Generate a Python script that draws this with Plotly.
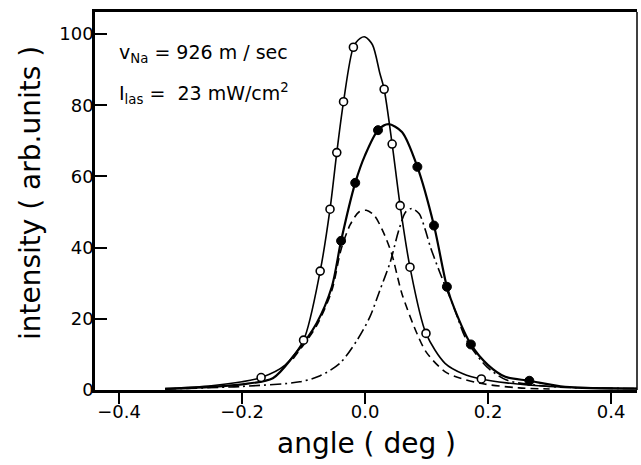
import plotly.graph_objects as go

# measured points (open circles: undeflected beam, filled circles: with laser)
open_x = [-0.169, -0.100, -0.073, -0.057, -0.046, -0.035, -0.019, 0.031, 0.044, 0.057, 0.073, 0.099, 0.189]
open_y = [3.5, 14.0, 33.4, 50.8, 66.7, 81.0, 96.3, 84.5, 69.1, 51.8, 34.5, 15.9, 3.1]

filled_x = [-0.039, -0.016, 0.021, 0.085, 0.112, 0.133, 0.172, 0.267]
filled_y = [41.9, 58.2, 73.0, 62.7, 46.2, 29.0, 12.8, 2.6]

# curves
open_curve_x = [-0.325, -0.25, -0.2, -0.169, -0.13, -0.100, -0.073, -0.057, -0.046, -0.035,
                -0.019, -0.008, 0.0, 0.012, 0.024, 0.031, 0.044, 0.057, 0.073, 0.099,
                0.13, 0.16, 0.189, 0.23, 0.30, 0.442]
open_curve_y = [0.4, 1.2, 2.3, 3.5, 7.0, 14.0, 33.4, 50.8, 66.7, 81.0,
                96.3, 98.8, 99.2, 97.0, 89.0, 84.5, 69.1, 51.8, 34.5, 15.9,
                7.5, 4.5, 3.1, 2.0, 1.0, 0.4]

filled_curve_x = [-0.325, -0.25, -0.2, -0.15, -0.117, -0.079, -0.054, -0.039, -0.016, 0.0,
                  0.021, 0.038, 0.060, 0.085, 0.112, 0.133, 0.146, 0.172, 0.200, 0.228,
                  0.267, 0.325, 0.442]
filled_curve_y = [0.3, 0.9, 1.6, 3.3, 9.4, 18.7, 29.0, 41.9, 58.2, 66.0,
                  73.0, 74.7, 72.5, 62.7, 46.2, 29.0, 22.5, 12.8, 7.0, 3.7,
                  2.6, 0.9, 0.4]

dashed_x = [-0.117, -0.079, -0.054, -0.039, -0.024, -0.010, 0.002, 0.015, 0.028, 0.043,
            0.060, 0.084, 0.100, 0.133, 0.187, 0.25, 0.30]
dashed_y = [8.8, 18.0, 28.0, 39.5, 46.5, 50.0, 50.5, 49.0, 45.0, 38.4,
            27.0, 16.0, 10.5, 4.8, 1.9, 0.6, 0.3]

dashdot_x = [-0.325, -0.2, -0.106, -0.073, -0.041, -0.013, 0.008, 0.024, 0.041, 0.055,
             0.066, 0.076, 0.088, 0.097, 0.106, 0.122, 0.144, 0.165, 0.198, 0.230,
             0.30, 0.442]
dashdot_y = [0.3, 1.0, 2.3, 4.0, 7.5, 14.0, 20.6, 28.0, 36.0, 45.0,
             50.0, 51.0, 49.5, 45.5, 40.3, 32.8, 23.4, 14.0, 6.5, 2.8,
             1.0, 0.4]

x_ticks = [-0.4, -0.2, 0.0, 0.2, 0.4]
x_tick_labels = ["−0.4", "−0.2", "0.0", "0.2", "0.4"]
y_ticks = [0, 20, 40, 60, 80, 100]
y_tick_labels = ["0", "20", "40", "60", "80", "100"]

FONT = "DejaVu Sans"
fig = go.Figure()

fig.add_trace(go.Scatter(x=dashed_x, y=dashed_y, mode="lines",
                         line=dict(color="black", width=1.6, dash="8px,5px", shape="spline", smoothing=0.8)))
fig.add_trace(go.Scatter(x=dashdot_x, y=dashdot_y, mode="lines",
                         line=dict(color="black", width=1.6, dash="11px,4px,2px,4px", shape="spline", smoothing=0.8)))
fig.add_trace(go.Scatter(x=open_curve_x, y=open_curve_y, mode="lines",
                         line=dict(color="black", width=1.6, shape="spline", smoothing=0.8)))
fig.add_trace(go.Scatter(x=filled_curve_x, y=filled_curve_y, mode="lines",
                         line=dict(color="black", width=2.2, shape="spline", smoothing=0.8)))
fig.add_trace(go.Scatter(x=open_x, y=open_y, mode="markers",
                         marker=dict(symbol="circle", size=8, color="white",
                                     line=dict(color="black", width=1.6))))
fig.add_trace(go.Scatter(x=filled_x, y=filled_y, mode="markers",
                         marker=dict(symbol="circle", size=9, color="black",
                                     line=dict(color="black", width=1))))

fig.update_layout(
    width=641, height=465,
    margin=dict(l=95, r=4, t=12, b=75),
    paper_bgcolor="white", plot_bgcolor="white",
    showlegend=False,
    font=dict(family=FONT, color="black", size=17),
    xaxis=dict(range=[-0.439, 0.442], tickvals=x_ticks, ticktext=x_tick_labels,
               showgrid=False, zeroline=False, showline=True, linecolor="black", linewidth=3,
               mirror=True, ticks="outside", ticklen=11, tickwidth=2, tickcolor="black",
               ticklabelstandoff=-8,
               tickfont=dict(family=FONT, size=18)),
    yaxis=dict(range=[0, 106.2], tickvals=y_ticks, ticktext=y_tick_labels,
               showgrid=False, zeroline=False, showline=True, linecolor="black", linewidth=2.5,
               ticks="inside", ticklen=12, tickwidth=2, tickcolor="black",
               ticklabelstandoff=-5,
               tickfont=dict(family=FONT, size=18)),
    shapes=[dict(type="line", xref="paper", yref="paper", x0=1, x1=1, y0=0, y1=1,
                 line=dict(color="black", width=1.5))],
    annotations=[
        dict(text="angle ( deg )", xref="paper", yref="paper", x=0.5, y=0,
             xanchor="center", yanchor="middle", yshift=-53, showarrow=False,
             font=dict(family=FONT, size=28)),
        dict(text="intensity ( arb.units )", xref="paper", yref="paper", x=0, y=0.521,
             xanchor="center", yanchor="middle", xshift=-65, textangle=-90, showarrow=False,
             font=dict(family=FONT, size=28)),
        dict(text="v<sub>Na</sub> = 926 m / sec", xref="paper", yref="paper", x=0.0406, y=0.8915,
             xanchor="left", yanchor="middle", showarrow=False, font=dict(family=FONT, size=19)),
        dict(text="I<sub>las</sub> =  23 mW/cm<sup>2</sup>", xref="paper", yref="paper", x=0.0406, y=0.7857,
             xanchor="left", yanchor="middle", showarrow=False, font=dict(family=FONT, size=19)),
    ],
)

fig.write_html("out.html", config={"displayModeBar": False},
               post_script="document.body.style.margin='0';")
